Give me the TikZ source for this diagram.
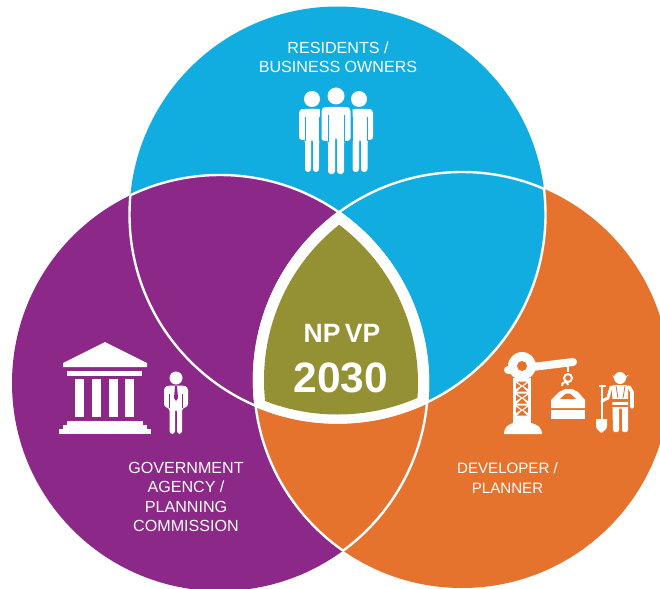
\documentclass[tikz,border=0pt]{standalone}
\usepackage{fontspec}
\setmainfont{Liberation Sans}
\definecolor{cblue}{HTML}{12ADE0}
\definecolor{cpurple}{HTML}{8B2888}
\definecolor{corange}{HTML}{E5722D}
\definecolor{colive}{HTML}{949135}
\tikzset{
  label/.style={text=white,align=center,font=\fontsize{16.1}{19.5}\selectfont,inner sep=0pt},
  ring/.style={draw=white,line width=2.4pt},
  ico/.style={fill=white,draw=none},
  slit/.style={draw=cblue,line width=1pt}
}
% {cx}{shoulder y}{half width}{arm end y}{leg end y}{leg half width}
\newcommand{\figperson}[6]{%
  \fill[white,rounded corners=3pt] (#1-#3,#2+1) -- (#1-#3+4,#2) -- (#1+#3-4,#2) -- (#1+#3,#2+1) -- (#1+#3,#4) -- (#1+#6,#4) -- (#1+#6,#5) -- (#1+1,#5) -- (#1+1,#2+30) -- (#1-1,#2+30) -- (#1-1,#5) -- (#1-#6,#5) -- (#1-#6,#4) -- (#1-#3,#4) -- cycle;
  \draw[slit] (#1-#6,#2+8) -- (#1-#6,#4+1) (#1+#6,#2+8) -- (#1+#6,#4+1);
  \fill[cblue] (#1-#3-1,#4) rectangle (#1-#6-.5,#5+1) (#1+#6+.5,#4) rectangle (#1+#3+1,#5+1);
}
\begin{document}
\begin{tikzpicture}[x=1pt,y=-1pt]
\useasboundingbox (0,0) rectangle (660,588);
\def\Bc{(337.5,214.5)} \def\Pc{(220,383)} \def\Oc{(462,380)}
\def\R{208}\def\Rb{208}
\begin{scope}
  \clip (0,0) rectangle (660,588);
  \fill[cpurple] \Pc circle (\R);
  \fill[corange] \Oc circle (\R);
  \fill[cblue] \Bc circle (\Rb);
  \begin{scope}\clip \Bc circle (\Rb); \fill[cpurple] \Pc circle (\R);\end{scope}
  \begin{scope}\clip \Pc circle (\R); \draw[ring] \Bc circle (\Rb); \draw[ring] \Oc circle (\R);\end{scope}
  \begin{scope}\clip \Oc circle (\R); \draw[ring] \Bc circle (\Rb); \draw[ring] \Pc circle (\R);\end{scope}
  \begin{scope}\clip \Bc circle (\Rb); \draw[ring] \Pc circle (\R); \draw[ring] \Oc circle (\R);\end{scope}
  \begin{scope}\clip \Bc circle (\Rb); \clip \Pc circle (\R); \fill[white] \Oc circle (\R);\end{scope}
  \begin{scope}\clip \Bc circle (\Rb-8); \clip \Pc circle (\R-10); \fill[colive] \Oc circle (\R-10);\end{scope}
\end{scope}
% text
\node[label] (res) at (338,57) {RESIDENTS /\\BUSINESS OWNERS};
\node[label] (gov) at (186,497) {GOVERNMENT\\AGENCY /\\PLANNING\\COMMISSION};
\node[label,font=\fontsize{15.1}{19.5}\selectfont] (dev) at (507.500,478) {DEVELOPER /\\PLANNER};
\node[text=white,font=\bfseries\fontsize{26.5}{26.5}\selectfont,inner sep=0pt] (np) at (342,333) {NP\hspace{-3pt} VP};
\node[text=white,font=\bfseries\fontsize{42.5}{42.5}\selectfont,inner sep=0pt] (yr) at (341,378) {2030};
% people
\figperson{312}{109}{13}{140}{172}{7}
\figperson{360}{109}{13}{140}{172}{7.500}
\fill[ico] (312,99) circle (8);
\fill[ico] (359,99) circle (8);
\fill[ico] (336,96) circle (8.500);
\fill[cblue,rounded corners=2pt] (320,105.500) rectangle (352.500,146);
\figperson{336}{107}{14.500}{141}{174}{8}
% government building
\fill[ico] (105,342) -- (147,363) -- (147,367) -- (63,367) -- (63,363) -- cycle;
\fill[ico] (67,371) rectangle (142,376);
\foreach \a in {75,92,109,125} \fill[ico] (\a,379) rectangle (\a+9,417);
\fill[ico] (67,421) rectangle (143,425);
\fill[ico] (63,425) rectangle (147,429);
\fill[ico] (59,429) rectangle (151,434);
% official
\fill[ico] (176,378) circle (6.500);
\fill[ico,rounded corners=3pt] (164,387) -- (169,385.500) -- (183,385.500) -- (188,387) -- (188,407) -- (182,408) -- (182,434) -- (177,434) -- (177,409) -- (175,409) -- (175,434) -- (169.500,434) -- (169.500,408) -- (164,407) -- cycle;
\fill[cpurple] (175,386) -- (177,386) -- (178,398) -- (176,401) -- (174,398) -- cycle;
\draw[cpurple,line width=.6pt] (169.500,394) -- (169.500,408) (182,394) -- (182,408);
% crane
\fill[ico] (522,366) circle (14);
\draw[white,line width=8pt,line cap=round] (508,370) -- (573,362);
\fill[corange] (522,366) circle (5);
\fill[ico] (513,378) rectangle (531,425);
\fill[ico] (504,434) .. controls (504,425) and (512,422) .. (522,422) .. controls (532,422) and (542,425) .. (542,434) -- cycle;
\foreach \a/\b in {380/392,392/404,404/416}{
  \fill[corange] (517,\a+1.500) -- (527,\a+1.500) -- (522,\a+5.500) -- cycle;
  \fill[corange] (517,\b-.500) -- (527,\b-.500) -- (522,\b-5.500) -- cycle;
  \fill[corange] (516,\a+3) -- (520.500,\a+6) -- (516,\a+9) -- cycle;
  \fill[corange] (528,\a+3) -- (523.500,\a+6) -- (528,\a+9) -- cycle;
}
% hook and load
\draw[white,line width=1.400pt] (568,364) -- (568,372);
\draw[white,line width=2pt] (568,378) circle (4);
\draw[white,line width=2pt] (568,385) arc (0:-200:3);
\fill[ico] (559,392) -- (565,389) -- (572,389) -- (578,392) -- (585,400) -- (585,408) -- (551,408) -- (551,400) -- cycle;
\fill[corange] (560,399) -- (566,393.500) -- (570,393.500) -- (576,399) -- cycle;
\fill[ico] (551,410) rectangle (585,419);
% worker
\fill[ico] (620,378) circle (6);
\fill[ico] (613,375) arc (180:0:7) -- (629,376) -- (612,376) -- cycle;
\fill[ico,rounded corners=2pt] (612,385) -- (628,385) -- (628,432) -- (622,432) -- (622,408) -- (619,408) -- (619,432) -- (613,432) -- cycle;
\draw[white,line width=3.600pt,line cap=round,line join=round] (629,387) -- (632,392) -- (632,407);
\draw[white,line width=3pt,line cap=round,line join=round] (611,387) -- (608,398) -- (602,401);
\fill[corange] (612,399) rectangle (628,402);
\fill[corange] (612,405) rectangle (628,407);
\draw[corange,line width=.8pt] (616,386) -- (618,398) (625,386) -- (623,398);
\draw[white,line width=1.600pt] (602,386) -- (602,420) (598.500,386) -- (605.500,386);
\fill[ico] (596,419) -- (607,419) -- (607,426) .. controls (607,429) and (604,431) .. (601.500,433) .. controls (599,431) and (596,429) .. (596,426) -- cycle;
\end{tikzpicture}
\end{document}
